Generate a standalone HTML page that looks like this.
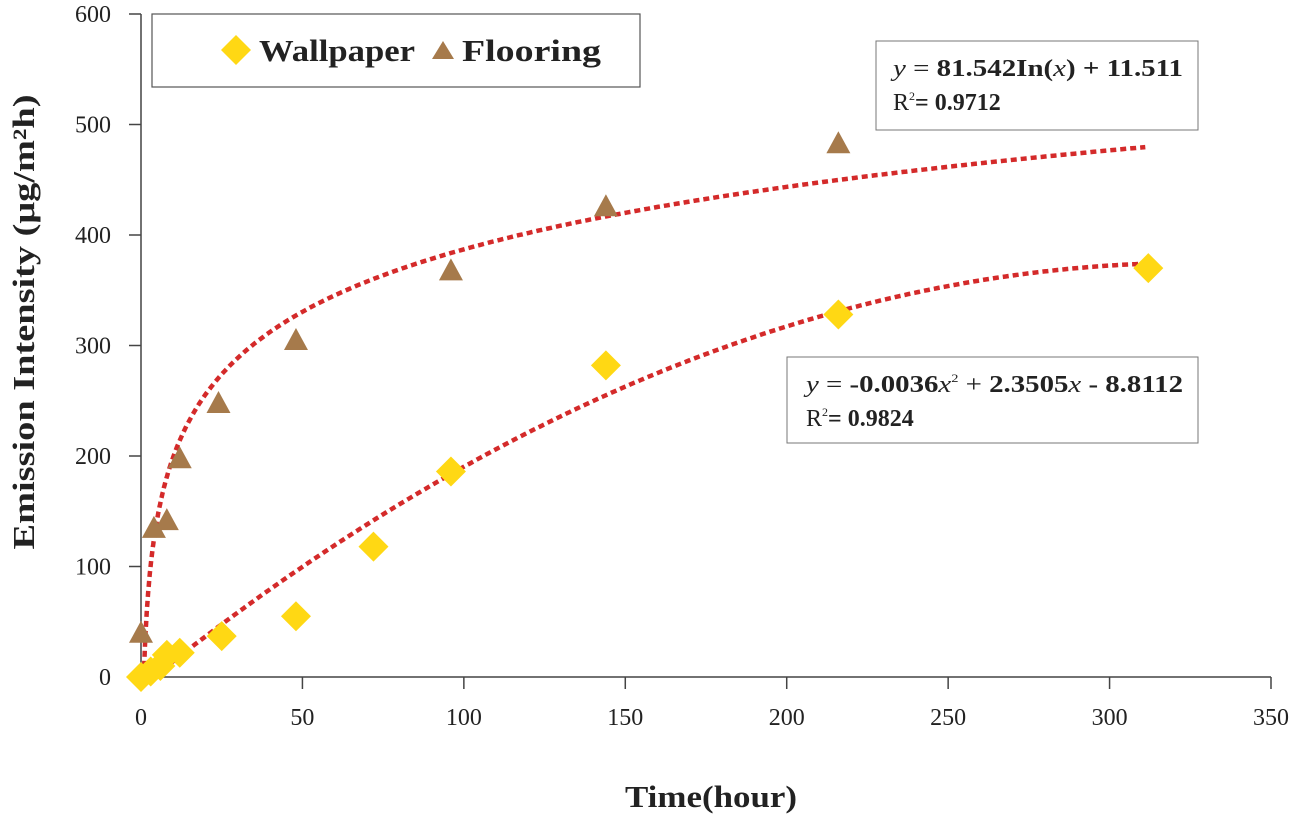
<!DOCTYPE html>
<html><head><meta charset="utf-8"><style>
body{margin:0;background:#fff}
svg{display:block;font-family:"Liberation Serif",serif}
</style></head><body>
<svg width="1300" height="817" id="chart">
<g id="axes"></g>
<g id="marks"></g>
<g>
<rect x="152" y="14" width="488" height="73" fill="#fff" stroke="#555" stroke-width="1.2"/>
<polygon points="236,35 251,50 236,65 221,50" fill="#FFD814"/>
<text x="259" y="61" font-size="31" font-weight="bold" fill="#222" textLength="156" lengthAdjust="spacingAndGlyphs">Wallpaper</text>
<polygon points="443,41 454,59 432,59" fill="#A67A4B"/>
<text x="462" y="61" font-size="31" font-weight="bold" fill="#222" textLength="139" lengthAdjust="spacingAndGlyphs">Flooring</text>
</g>
<g>
<rect x="876" y="41" width="322" height="89" fill="#fff" stroke="#777" stroke-width="1"/>
<text x="893" y="76" font-size="24" fill="#222" textLength="290" lengthAdjust="spacingAndGlyphs"><tspan font-style="italic">y</tspan> = <tspan font-weight="bold">81.542In(</tspan><tspan font-style="italic">x</tspan><tspan font-weight="bold">) + 11.511</tspan></text>
<text x="893" y="110" font-size="24" fill="#222">R<tspan font-size="12" dy="-10">2</tspan><tspan dy="10" font-weight="bold">= 0.9712</tspan></text>
</g>
<g>
<rect x="787" y="357" width="411" height="86" fill="#fff" stroke="#777" stroke-width="1"/>
<text x="806" y="392" font-size="24" fill="#222" textLength="377" lengthAdjust="spacingAndGlyphs"><tspan font-style="italic">y</tspan> = <tspan font-weight="bold">-0.0036</tspan><tspan font-style="italic">x</tspan><tspan font-size="12" dy="-10">2</tspan><tspan dy="10"> + </tspan><tspan font-weight="bold">2.3505</tspan><tspan font-style="italic">x</tspan> <tspan font-weight="bold">- 8.8112</tspan></text>
<text x="806" y="426" font-size="24" fill="#222">R<tspan font-size="12" dy="-10">2</tspan><tspan dy="10" font-weight="bold">= 0.9824</tspan></text>
</g>
<text x="711" y="807" text-anchor="middle" font-size="31" font-weight="bold" fill="#222" textLength="172" lengthAdjust="spacingAndGlyphs">Time(hour)</text>
<text transform="translate(34,322) rotate(-90)" text-anchor="middle" font-size="31" font-weight="bold" fill="#222" textLength="455" lengthAdjust="spacingAndGlyphs">Emission Intensity (μg/m²h)</text>
</svg>
<script>
const xTicks=[0,50,100,150,200,250,300,350];
const yTicks=[0,100,200,300,400,500,600];
const wallpaperX=[0,3,6,8,12,25,48,72,96,144,216,312];
const wallpaperY=[0,5,10,20,22,37,55,118,186,282,328,370];
const flooringX=[0,4,8,12,24,48,96,144,216];
const flooringY=[40,135,142,198,248,305,368,426,483];
const flooringFit=[81.542,11.511];
const wallpaperFit=[-0.0036,2.3505,-8.8112];
const sx=v=>141+v*(1271-141)/350;
const sy=v=>677-v*(677-14)/600;
const NS="http://www.w3.org/2000/svg";
function mk(t,a,p){const e=document.createElementNS(NS,t);for(const k in a)e.setAttribute(k,a[k]);p.appendChild(e);return e;}
const ax=document.getElementById('axes'),mg=document.getElementById('marks');
let l=mk('line',{x1:141,y1:sy(600),x2:141,y2:677,stroke:'#444','stroke-width':1.5},ax);


l=mk('line',{x1:141,y1:677,x2:sx(350),y2:677,stroke:'#444','stroke-width':1.5},ax);


yTicks.forEach(v=>{mk('line',{x1:129,x2:141,y1:sy(v),y2:sy(v),stroke:'#444','stroke-width':1.5},ax);
const t=mk('text',{x:111,y:sy(v)+8,'text-anchor':'end','font-size':24,fill:'#222'},ax);t.textContent=v;

});
xTicks.forEach(v=>{mk('line',{x1:sx(v),x2:sx(v),y1:677,y2:689,stroke:'#444','stroke-width':1.5},ax);
const t=mk('text',{x:sx(v),y:725,'text-anchor':'middle','font-size':24,fill:'#222'},ax);t.textContent=v;

});
let d='';for(let x=0.87;x<=312;x+=(x<10?0.1:1)){const y=flooringFit[0]*Math.log(x)+flooringFit[1];d+=(d?'L':'M')+sx(x).toFixed(1)+','+sy(y).toFixed(1);}
let p=mk('path',{d:d,fill:'none',stroke:'#D42A2A','stroke-width':4.5,'stroke-dasharray':'6 4'},mg);


d='';for(let x=3.8;x<=312;x+=1){const y=wallpaperFit[0]*x*x+wallpaperFit[1]*x+wallpaperFit[2];d+=(d?'L':'M')+sx(x).toFixed(1)+','+sy(y).toFixed(1);}
p=mk('path',{d:d,fill:'none',stroke:'#D42A2A','stroke-width':4.5,'stroke-dasharray':'6 4'},mg);


flooringX.forEach((x,i)=>{const cx=sx(x),cy=sy(flooringY[i]);
const e=mk('polygon',{points:`${cx},${cy-12} ${cx+12},${cy+10} ${cx-12},${cy+10}`,fill:'#A67A4B'},mg);

});
wallpaperX.forEach((x,i)=>{const cx=sx(x),cy=sy(wallpaperY[i]);
const e=mk('polygon',{points:`${cx},${cy-15} ${cx+15},${cy} ${cx},${cy+15} ${cx-15},${cy}`,fill:'#FFD814'},mg);

});
</script>
</body></html>
